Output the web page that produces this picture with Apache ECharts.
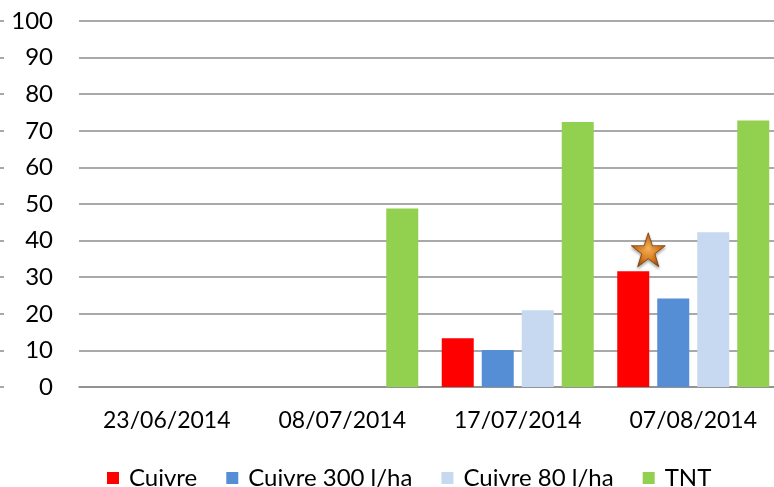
<!DOCTYPE html>
<html>
<head>
<meta charset="utf-8">
<script src="https://cdn.jsdelivr.net/npm/echarts@6/dist/echarts.min.js"></script>
<style>
  html, body { margin: 0; padding: 0; background: #ffffff; overflow: hidden; }
  #chart { width: 774px; height: 487px; }
</style>
</head>
<body>
<div id="chart"></div>
<script>
// dates of the counts
const categories = ["23/06/2014", "08/07/2014", "17/07/2014", "07/08/2014"];
// values per treatment (null = no bar)
const cuivre = [null, null, 13.3, 31.6];
const cuivre300 = [null, null, 10.1, 24.2];
const cuivre80 = [null, null, 21.0, 42.3];
const tnt = [null, 48.8, 72.4, 72.8];
const yTicks = [0, 10, 20, 30, 40, 50, 60, 70, 80, 90, 100];

const chart = echarts.init(document.getElementById("chart"));

const font = "Lato";
const starPath = "path://M50,0 L61.8,35.5 L99,35.5 L69,57.5 L80.5,93 L50,71 L19.5,93 L31,57.5 L1,35.5 L38.2,35.5 Z";

chart.setOption({
  backgroundColor: "#ffffff",
  animation: false,
  textStyle: { fontFamily: font },
  grid: {
    left: 79,
    top: 21,
    width: 702,
    height: 366,
    outerBoundsMode: "none",
  },
  legend: {
    top: 466,
    left: 107,
    padding: 0,
    itemWidth: 12,
    itemHeight: 12,
    itemGap: 29,
    icon: "rect",
    textStyle: {
      fontSize: 24,
      color: "#000000",
      fontFamily: font,
      padding: [0, 0, 0, 5],
    },
    data: ["Cuivre", "Cuivre 300 l/ha", "Cuivre 80 l/ha", "TNT"],
  },
  xAxis: {
    type: "category",
    data: categories,
    axisTick: { show: false },
    axisLine: {
      lineStyle: { color: "#8c8c8c", width: 1.5 },
    },
    axisLabel: {
      color: "#000000",
      fontSize: 23,
      margin: 22,
      interval: 0,
    },
  },
  yAxis: [
    {
      type: "value",
      min: yTicks[0],
      max: yTicks[yTicks.length - 1],
      interval: 10,
      axisLine: { show: false },
      axisTick: { show: false },
      axisLabel: {
        color: "#000000",
        fontSize: 24,
        margin: 26,
      },
      splitLine: {
        lineStyle: { color: "#8c8c8c", width: 1.5 },
      },
    },
    {
      // the little dashes at the left edge
      type: "value",
      position: "left",
      offset: 75,
      min: yTicks[0],
      max: yTicks[yTicks.length - 1],
      interval: 10,
      axisLine: { show: false },
      axisLabel: { show: false },
      splitLine: { show: false },
      axisTick: {
        show: true,
        length: 4,
        lineStyle: { color: "#8c8c8c", width: 1.5 },
      },
    },
  ],
  series: [
    {
      name: "Cuivre",
      type: "bar",
      barWidth: 32,
      barGap: "25%",
      itemStyle: { color: "#ff0000" },
      data: cuivre,
      markPoint: {
        symbol: starPath,
        symbolSize: [34, 34],
        symbolOffset: [15, 0],
        label: { show: false },
        itemStyle: {
          color: new echarts.graphic.RadialGradient(0.5, 0.45, 0.6, [
            { offset: 0, color: "#f6b25a" },
            { offset: 0.6, color: "#d87a1c" },
            { offset: 1, color: "#9a4a0c" },
          ]),
          borderColor: "#7a3a08",
          borderWidth: 0.8,
          shadowColor: "rgba(0,0,0,0.35)",
          shadowBlur: 3,
          shadowOffsetY: 2,
        },
        data: [{ coord: ["07/08/2014", 37.5] }],
      },
    },
    {
      name: "Cuivre 300 l/ha",
      type: "bar",
      barWidth: 32,
      itemStyle: { color: "#558ed5" },
      data: cuivre300,
    },
    {
      name: "Cuivre 80 l/ha",
      type: "bar",
      barWidth: 32,
      itemStyle: { color: "#c6d9f1" },
      data: cuivre80,
    },
    {
      name: "TNT",
      type: "bar",
      barWidth: 32,
      itemStyle: { color: "#92d050" },
      data: tnt,
    },
  ],
});
</script>
</body>
</html>
